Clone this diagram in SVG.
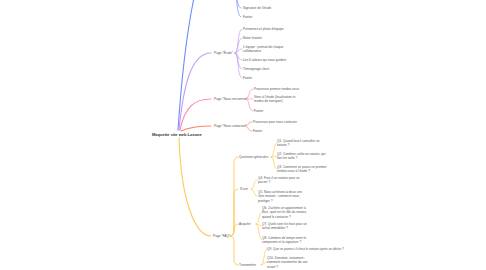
<svg xmlns="http://www.w3.org/2000/svg" width="486" height="270" viewBox="0 0 486 270">
<style>
text{font-family:"Liberation Sans",Arial,sans-serif;font-size:3.2px;fill:#555}
.root{font-size:4px;font-weight:bold;fill:#333}
.c{fill:none;stroke-linecap:round}
.b{stroke:#6f8dfb}.p{stroke:#c39cf7}.k{stroke:#fb8fb3}.r{stroke:#fb8466}.y{stroke:#fcc95a}
.m{stroke-width:1.1}.s{stroke-width:0.7}
</style>
<rect width="486" height="270" fill="#fff"/>
<g id="connectors">
<path class="c b m" d="M178,130 C182,70 188,20 198,-20"/>
<path class="c p m" d="M179,130 C183,90 190,53 211,53"/>
<path class="c k m" d="M180,130 C185,106 195,99 211,99"/>
<path class="c r m" d="M181,131 C190,127 200,126 211,126"/>
<path class="c y m" d="M179,138 C181,200 195,236 211,236"/>
<path class="c b s" d="M232,-20 C236,-20 235,-1 241,-1"/>
<path class="c b s" d="M232,-20 C237,-20 235,8 241,8"/>
<path class="c b s" d="M232,-20 C238,-20 235,17 241,17"/>
<path class="c p s" d="M235,53 C239,53 237,29 242,29"/>
<path class="c p s" d="M235,53 C239,53 237,38 242,38"/>
<path class="c p s" d="M235,53 C239,53 237,49 242,49"/>
<path class="c p s" d="M235,53 C239,53 237,60 242,60"/>
<path class="c p s" d="M235,53 C239,53 237,69 242,69"/>
<path class="c p s" d="M235,53 C239,53 237,78 242,78"/>
<path class="c k s" d="M246,99 C250,99 248,89 253,89"/>
<path class="c k s" d="M246,99 C250,99 248,99 253,99"/>
<path class="c k s" d="M246,99 C250,99 248,111 253,111"/>
<path class="c r s" d="M245,126 C249,126 247,122 252,122"/>
<path class="c r s" d="M245,126 C249,126 247,131 252,131"/>
<path class="c y" stroke-width="0.9" d="M230,236 Q234,236 234,230 L234,163 Q234,157 238,157"/>
<path class="c y" stroke-width="0.9" d="M230,236 Q234,236 234,230 L234,195 Q234,189 238,189"/>
<path class="c y" stroke-width="0.9" d="M230,236 Q234,236 234,230 Q234,224 238,224"/>
<path class="c y" stroke-width="0.9" d="M230,236 Q234,236 234,242 L234,259 Q234,265 238,265"/>
<path class="c y s" d="M271,157 C275,157 273,143 277,143"/>
<path class="c y s" d="M271,157 C275,157 273,156 277,156"/>
<path class="c y s" d="M271,157 C275,157 273,169 277,169"/>
<path class="c y s" d="M251,189 C255,189 253,180 257,180"/>
<path class="c y s" d="M251,189 C255,189 253,196 257,196"/>
<path class="c y s" d="M256,224 C260,224 258,212 262,212"/>
<path class="c y s" d="M256,224 C260,224 258,226 262,226"/>
<path class="c y s" d="M256,224 C260,224 258,240 262,240"/>
<path class="c y s" d="M261,265 C265,265 263,249 267,249"/>
<path class="c y s" d="M261,265 C265,265 263,262 267,262"/>
</g>
<g id="root"><text class="root" x="152" y="135.5">Maquette site web Loxone</text></g>
<g id="b1"><text x="243" y="0">Contact</text></g>
<g id="b2"><text x="243" y="8.8">Signature de l'étude</text></g>
<g id="b3"><text x="243" y="17.8">Footer</text></g>
<g id="etude"><text x="214" y="53.6">Page "Étude"</text></g>
<g id="e1"><text x="243" y="29.6">Personnes et photo d'équipe</text></g>
<g id="e2"><text x="243" y="38.6">Notre histoire</text></g>
<g id="e3"><text x="243" y="47.6">L'équipe : portrait de chaque<tspan x="243" dy="4.4">collaborateur</tspan></text></g>
<g id="e4"><text x="243" y="60.6">Les 6 valeurs qui nous guident</text></g>
<g id="e5"><text x="243" y="69.6">Témoignage client</text></g>
<g id="e6"><text x="243" y="78.6">Footer</text></g>
<g id="rencontrer"><text x="214" y="100.1">Page "Nous rencontrer"</text></g>
<g id="n1"><text x="254" y="89.6">Processus premier rendez-vous</text></g>
<g id="n2"><text x="254" y="98">Venir à l'étude (localisation et<tspan x="254" dy="4.4">modes de transport)</tspan></text></g>
<g id="n3"><text x="254" y="111.8">Footer</text></g>
<g id="contacter"><text x="214" y="127.1">Page "Nous contacter"</text></g>
<g id="c1"><text x="253" y="123">Processus pour nous contacter</text></g>
<g id="c2"><text x="253" y="132.1">Footer</text></g>
<g id="faq"><text x="213" y="237.1">Page "FAQ"</text></g>
<g id="qg"><text x="239" y="158.1">Questions générales</text></g>
<g id="q1"><text x="277" y="142">Q1. Quand faut-il consulter un<tspan x="277" dy="4.4">notaire ?</tspan></text></g>
<g id="q2"><text x="277" y="155">Q2. Combien coûte un notaire, qui<tspan x="277" dy="4.4">fixe les tarifs ?</tspan></text></g>
<g id="q3"><text x="277" y="168">Q3. Comment se passe un premier<tspan x="277" dy="4.4">rendez-vous à l'étude ?</tspan></text></g>
<g id="sunir"><text x="240" y="190.1">S'unir</text></g>
<g id="q4"><text x="258" y="179">Q4. Faut-il un notaire pour se<tspan x="258" dy="4.4">pacser ?</tspan></text></g>
<g id="q5"><text x="258" y="193">Q5. Nous achetons à deux une<tspan x="258" dy="4.4">1ère maison : comment nous</tspan><tspan x="258" dy="4.4">protéger ?</tspan></text></g>
<g id="acquerir"><text x="239" y="225.1">Acquérir</text></g>
<g id="q6"><text x="262" y="209">Q6. J'achète un appartement à<tspan x="262" dy="4.4">Nice, quel est le rôle du notaire,</tspan><tspan x="262" dy="4.4">quand le contacter ?</tspan></text></g>
<g id="q7"><text x="262" y="225">Q7. Quels sont les frais pour un<tspan x="262" dy="4.4">achat immobilier ?</tspan></text></g>
<g id="q8"><text x="262" y="239">Q8. Combien de temps entre le<tspan x="262" dy="4.4">compromis et la signature ?</tspan></text></g>
<g id="transmettre"><text x="239" y="266.1">Transmettre</text></g>
<g id="q9"><text x="267" y="250.1">Q9. Que se passe-t-il chez le notaire après un décès ?</text></g>
<g id="q10"><text x="267" y="259">Q10. Donation, testament :<tspan x="267" dy="4.4">comment transmettre de son</tspan><tspan x="267" dy="4.4">vivant ?</tspan></text></g>
</svg>
